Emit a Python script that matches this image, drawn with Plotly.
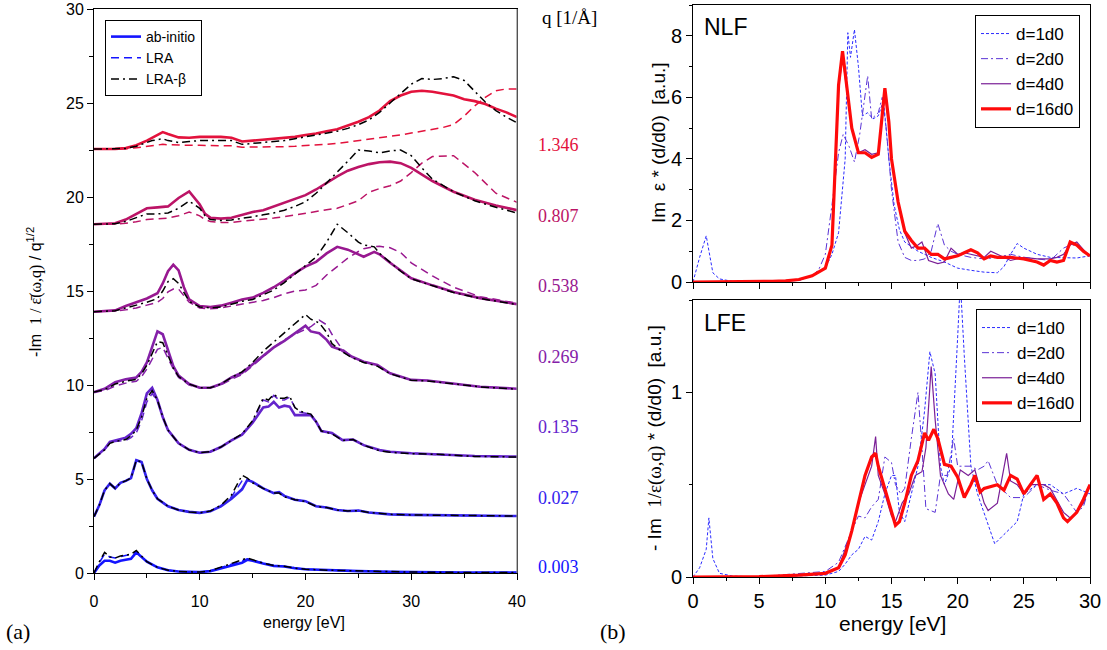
import plotly.graph_objects as go

# ---------------- Panel (a) data ----------------
q_labels = ["0.003", "0.027", "0.135", "0.269", "0.538", "0.807", "1.346"]
q_colors = ["#1414ff", "#3322ee", "#6424cc", "#8420a8", "#981890", "#bc1466", "#e3123c"]
q_label_y = [0.3, 4.0, 7.75, 11.5, 15.25, 19.0, 22.75]

E003 = [0, 0.5, 1, 1.5, 2, 2.5, 3, 3.5, 4, 4.5, 5, 6, 7, 8, 9, 10, 11, 12, 13, 14, 14.5, 15, 16, 17, 18, 19, 20, 22, 25, 28, 30, 35, 40]
ab003 = [0, 0.4, 0.65, 0.65, 0.55, 0.65, 0.7, 0.75, 1.1, 0.85, 0.6, 0.3, 0.15, 0.08, 0.05, 0.05, 0.1, 0.25, 0.4, 0.55, 0.7, 0.65, 0.5, 0.38, 0.35, 0.25, 0.2, 0.15, 0.1, 0.07, 0.05, 0.03, 0.02]
lra003 = [0, 0.55, 1.0, 0.85, 0.8, 0.88, 0.93, 1.0, 1.15, 0.88, 0.6, 0.3, 0.15, 0.08, 0.05, 0.05, 0.11, 0.28, 0.46, 0.65, 0.76, 0.68, 0.51, 0.39, 0.35, 0.26, 0.2, 0.15, 0.1, 0.07, 0.05, 0.03, 0.02]
beta003 = [0, 0.6, 1.1, 0.85, 0.8, 0.9, 0.95, 1.0, 1.2, 0.9, 0.6, 0.3, 0.15, 0.08, 0.05, 0.05, 0.12, 0.3, 0.5, 0.7, 0.8, 0.7, 0.52, 0.4, 0.36, 0.26, 0.2, 0.15, 0.1, 0.07, 0.05, 0.03, 0.02]

E027 = [0, 0.5, 1, 1.5, 2, 2.5, 3, 3.5, 4, 4.5, 5, 5.5, 6, 7, 8, 9, 10, 11, 12, 13, 14, 14.5, 15, 16, 17, 17.5, 18, 19, 20, 21, 22, 23, 24, 25, 26, 27, 28, 30, 33, 36, 40]
ab027 = [3.0, 3.6, 4.4, 4.75, 4.5, 4.8, 4.9, 5.05, 6.0, 5.9, 5.0, 4.4, 3.95, 3.55, 3.35, 3.25, 3.2, 3.28, 3.55, 3.95, 4.45, 4.95, 4.85, 4.5, 4.25, 4.3, 4.1, 3.9, 3.82, 3.55, 3.48, 3.35, 3.3, 3.32, 3.22, 3.17, 3.12, 3.09, 3.06, 3.04, 3.03]
lra027 = [3.0, 3.6, 4.4, 4.75, 4.5, 4.8, 4.9, 5.05, 6.0, 5.9, 5.0, 4.4, 3.95, 3.55, 3.35, 3.25, 3.2, 3.29, 3.58, 4.05, 4.9, 5.0, 4.82, 4.5, 4.25, 4.28, 4.08, 3.9, 3.81, 3.55, 3.48, 3.35, 3.3, 3.32, 3.22, 3.17, 3.12, 3.09, 3.06, 3.04, 3.03]
beta027 = [3.0, 3.6, 4.4, 4.75, 4.5, 4.8, 4.9, 5.05, 6.0, 5.9, 5.0, 4.4, 3.95, 3.55, 3.35, 3.25, 3.2, 3.3, 3.6, 4.15, 5.2, 5.05, 4.8, 4.5, 4.25, 4.25, 4.05, 3.9, 3.8, 3.55, 3.48, 3.35, 3.3, 3.32, 3.22, 3.17, 3.12, 3.09, 3.06, 3.04, 3.03]

E135 = [0, 1, 1.5, 2, 3, 3.5, 4, 4.5, 5, 5.5, 6, 6.5, 7, 8, 9, 10, 11, 12, 13, 14, 15, 16, 16.5, 17, 17.5, 18, 18.5, 19, 19.5, 20.5, 21, 21.5, 22.5, 23.5, 24.5, 25.5, 27, 28, 30, 33, 36, 40]
ab135 = [6.1, 6.6, 6.98, 7.05, 7.2, 7.4, 7.7, 8.5, 9.55, 9.85, 9.2, 8.3, 7.6, 6.9, 6.55, 6.4, 6.45, 6.7, 7.05, 7.35, 8.0, 8.8, 8.85, 9.1, 8.8, 8.9, 8.85, 8.4, 8.4, 8.4, 8.05, 7.55, 7.45, 7.07, 7.1, 6.8, 6.54, 6.45, 6.37, 6.31, 6.22, 6.19]
lra135 = [6.1, 6.55, 6.9, 7.0, 7.05, 7.2, 7.45, 8.1, 9.1, 9.55, 9.15, 8.3, 7.6, 6.9, 6.55, 6.4, 6.45, 6.7, 7.05, 7.4, 8.05, 9.2, 9.1, 9.45, 9.2, 9.2, 9.35, 8.8, 8.55, 8.45, 8.05, 7.55, 7.42, 7.06, 7.1, 6.8, 6.52, 6.43, 6.36, 6.3, 6.21, 6.18]
beta135 = [6.1, 6.55, 6.9, 7.0, 7.1, 7.3, 7.6, 8.3, 9.3, 9.7, 9.2, 8.3, 7.6, 6.9, 6.55, 6.4, 6.45, 6.7, 7.05, 7.4, 8.1, 9.3, 9.2, 9.5, 9.3, 9.3, 9.4, 8.8, 8.6, 8.45, 8.05, 7.55, 7.4, 7.05, 7.1, 6.8, 6.5, 6.42, 6.35, 6.3, 6.2, 6.17]

E269 = [0, 1, 2, 3, 4, 4.5, 5, 5.5, 6, 6.5, 7, 7.5, 8, 9, 10, 11, 12, 13, 14, 15, 16, 17, 18, 19, 20, 20.5, 21.3, 22, 22.5, 23.4, 24.4, 25.5, 26.8, 28, 30, 31.5, 33.5, 36.5, 40]
ab269 = [9.62, 9.8, 10.15, 10.3, 10.4, 10.7, 11.2, 12.0, 12.85, 12.7, 11.8, 11.0, 10.5, 10.05, 9.85, 9.85, 10.05, 10.4, 10.65, 11.1, 11.6, 12.0, 12.35, 12.75, 13.15, 12.85, 12.75, 12.4, 12.04, 11.86, 11.5, 11.24, 11.06, 10.62, 10.27, 10.24, 10.1, 9.91, 9.8]
lra269 = [9.62, 9.7, 9.95, 10.1, 10.2, 10.45, 10.85, 11.4, 11.9, 12.0, 11.45, 10.85, 10.4, 10.0, 9.85, 9.85, 10.0, 10.3, 10.55, 11.0, 11.5, 12.0, 12.4, 12.7, 12.95, 13.1, 13.45, 13.2, 12.7, 11.95, 11.5, 11.25, 11.05, 10.62, 10.27, 10.24, 10.1, 9.91, 9.8]
beta269 = [9.62, 9.75, 10.05, 10.2, 10.3, 10.6, 11.05, 11.7, 12.3, 12.25, 11.6, 10.9, 10.45, 10.05, 9.85, 9.85, 10.05, 10.4, 10.7, 11.2, 11.8, 12.3, 12.8, 13.3, 13.75, 13.5, 13.3, 12.8, 12.2, 11.8, 11.45, 11.2, 11.0, 10.6, 10.25, 10.22, 10.08, 9.9, 9.78]

E538 = [0, 1, 2, 3, 4, 5, 6, 6.5, 7, 7.5, 8, 8.5, 9, 10, 11, 12, 13, 14, 15, 16, 17, 18, 19, 20, 21, 22, 23, 24, 25, 25.5, 26.5, 27, 28, 29, 30, 32, 34, 36.5, 40]
ab538 = [13.9, 13.92, 13.97, 14.2, 14.4, 14.6, 14.88, 15.4, 16.05, 16.4, 16.1, 15.2, 14.55, 14.2, 14.15, 14.22, 14.38, 14.55, 14.65, 14.9, 15.2, 15.55, 15.95, 16.3, 16.55, 17.0, 17.35, 17.2, 16.95, 16.82, 17.08, 16.95, 16.5, 16.1, 15.68, 15.3, 14.95, 14.62, 14.3]
lra538 = [13.9, 13.91, 13.93, 14.0, 14.1, 14.25, 14.4, 14.6, 14.95, 15.1, 15.1, 14.75, 14.4, 14.1, 14.05, 14.1, 14.2, 14.3, 14.4, 14.5, 14.65, 14.85, 15.0, 15.05, 15.3, 15.85, 16.3, 16.75, 17.1, 17.25, 17.35, 17.38, 17.3, 17.05, 16.5, 15.8, 15.2, 14.7, 14.35]
beta538 = [13.9, 13.92, 13.95, 14.1, 14.25, 14.4, 14.6, 15.0, 15.5, 15.65, 15.4, 14.9, 14.45, 14.15, 14.1, 14.15, 14.3, 14.45, 14.55, 14.8, 15.05, 15.45, 15.9, 16.4, 16.8, 17.6, 18.55, 18.1, 17.6, 17.45, 17.35, 17.0, 16.5, 16.05, 15.65, 15.28, 14.92, 14.6, 14.28]

E807 = [0, 1, 2, 3, 4, 5, 6, 7, 8, 9, 10, 10.5, 11, 12, 13, 14, 15, 16, 17, 18, 19, 20, 21, 22, 23, 24, 25, 26, 27, 28, 29, 30, 31, 32, 34, 36, 38, 40]
ab807 = [18.55, 18.56, 18.6, 18.8, 19.1, 19.4, 19.45, 19.5, 19.95, 20.3, 19.6, 19.1, 18.9, 18.85, 18.9, 19.05, 19.2, 19.3, 19.5, 19.7, 19.9, 20.1, 20.4, 20.75, 21.1, 21.4, 21.6, 21.75, 21.85, 21.88, 21.8, 21.55, 21.2, 20.85, 20.28, 19.85, 19.55, 19.3]
lra807 = [18.55, 18.55, 18.56, 18.6, 18.68, 18.8, 18.85, 18.88, 19.0, 19.2, 19.0, 18.8, 18.7, 18.65, 18.65, 18.7, 18.75, 18.8, 18.88, 18.95, 19.05, 19.15, 19.25, 19.32, 19.4, 19.6, 19.8, 20.25, 20.45, 20.6, 20.85, 21.3, 21.8, 22.15, 22.2, 21.3, 20.2, 19.72]
beta807 = [18.55, 18.56, 18.58, 18.7, 18.9, 19.1, 19.1, 19.15, 19.4, 19.78, 19.4, 19.0, 18.8, 18.75, 18.78, 18.85, 18.95, 19.05, 19.15, 19.3, 19.5, 19.75, 20.2, 20.75, 21.3, 21.9, 22.5, 22.45, 22.35, 22.45, 22.5, 22.2, 21.55, 20.95, 20.28, 19.8, 19.45, 19.15]

E1346 = [0, 1, 2, 3, 4, 5, 5.5, 6, 6.5, 7, 8, 9, 10, 11, 12, 13, 14, 15, 16, 17, 18, 19, 20, 21, 22, 23, 24, 25, 26, 27, 28, 29, 30, 31, 32, 33, 34, 35, 36, 37, 38, 39, 40]
ab1346 = [22.55, 22.55, 22.56, 22.6, 22.75, 23.0, 23.15, 23.3, 23.45, 23.35, 23.17, 23.15, 23.2, 23.2, 23.2, 23.15, 22.95, 23.0, 23.05, 23.1, 23.15, 23.2, 23.3, 23.38, 23.5, 23.6, 23.8, 24.0, 24.25, 24.6, 25.1, 25.4, 25.6, 25.65, 25.6, 25.5, 25.4, 25.2, 25.1, 24.95, 24.7, 24.5, 24.25]
lra1346 = [22.55, 22.55, 22.55, 22.56, 22.62, 22.7, 22.75, 22.78, 22.8, 22.78, 22.75, 22.75, 22.75, 22.75, 22.75, 22.72, 22.65, 22.65, 22.66, 22.67, 22.68, 22.7, 22.72, 22.76, 22.8, 22.85, 22.92, 23.0, 23.05, 23.12, 23.2, 23.3, 23.4, 23.5, 23.6, 23.7, 23.85, 24.3, 24.85, 25.3, 25.65, 25.75, 25.75]
beta1346 = [22.55, 22.55, 22.56, 22.58, 22.7, 22.9, 23.0, 23.05, 23.1, 23.0, 22.9, 22.95, 23.0, 23.0, 23.0, 23.0, 22.8, 22.85, 22.9, 22.95, 23.0, 23.1, 23.2, 23.3, 23.4, 23.5, 23.65, 23.85, 24.1, 24.5, 25.0, 25.5, 26.0, 26.3, 26.25, 26.3, 26.4, 26.2, 25.6, 25.05, 24.6, 24.25, 23.95]

sets_a = [
    (E003, ab003, lra003, beta003),
    (E027, ab027, lra027, beta027),
    (E135, ab135, lra135, beta135),
    (E269, ab269, lra269, beta269),
    (E538, ab538, lra538, beta538),
    (E807, ab807, lra807, beta807),
    (E1346, ab1346, lra1346, beta1346),
]

# ---------------- Panel (b) data ----------------
d_names = ["d=1d0", "d=2d0", "d=4d0", "d=16d0"]

# NLF
nlf_E1 = [0, 0.5, 1, 1.2, 1.5, 2, 3, 5, 8, 9, 10, 10.5, 11, 11.5, 11.7, 11.9, 12.2, 12.5, 12.8, 13.2, 13.6, 14, 14.4, 14.8, 15.2, 15.6, 16, 17, 18, 19, 20, 21, 22, 23, 23.5, 24, 24.5, 25, 26, 27, 28, 29, 30]
nlf_d1 = [0, 0.8, 1.5, 1.0, 0.3, 0.1, 0.02, 0.0, 0.05, 0.2, 0.45, 0.9, 1.6, 4.0, 8.1, 7.3, 8.2, 7.0, 5.4, 5.5, 5.3, 5.4, 5.9, 4.0, 2.5, 1.7, 1.3, 1.0, 0.8, 0.65, 0.45, 0.38, 0.32, 0.3, 0.5, 0.9, 1.25, 1.1, 0.9, 0.8, 0.8, 0.78, 0.85]
nlf_E2 = [0, 5, 8, 9, 9.5, 10, 10.5, 11, 11.35, 11.8, 12.2, 12.6, 13.2, 13.5, 14, 14.3, 14.6, 15, 15.5, 16, 16.5, 17, 17.5, 18, 18.5, 19, 19.5, 20, 21, 22, 23, 24, 25, 26, 27, 28, 28.5, 29, 29.5, 30]
nlf_d2 = [0, 0, 0.05, 0.2, 0.4, 0.9, 2.5, 4.2, 4.8, 4.4, 3.9, 4.8, 6.7, 5.3, 5.5, 6.0, 5.0, 3.0, 1.3, 0.8, 0.7, 0.7, 0.75, 1.0, 1.9, 1.2, 1.0, 0.9, 0.8, 0.75, 0.8, 0.9, 0.8, 0.75, 0.7, 1.1, 1.2, 1.2, 1.0, 0.85]
nlf_E4 = [0, 2, 4, 6, 7, 8, 9, 10, 10.5, 10.8, 11, 11.3, 11.7, 12, 12.5, 13, 13.5, 14, 14.2, 14.5, 14.8, 15, 15.5, 16, 16.5, 17, 17.3, 17.8, 18.5, 19, 19.5, 20, 20.5, 21, 21.5, 22, 22.5, 23, 24, 25, 26, 26.5, 27, 27.5, 28, 28.5, 29, 29.5, 30]
nlf_d4 = [0, 0, 0.01, 0.02, 0.04, 0.08, 0.2, 0.45, 1.2, 4.0, 6.3, 7.3, 6.0, 5.0, 4.2, 4.3, 4.15, 4.2, 5.0, 6.2, 5.1, 4.0, 2.6, 1.6, 1.1, 1.2, 1.3, 0.7, 0.6, 0.65, 1.1, 0.9, 0.95, 0.9, 0.85, 0.8, 1.0, 0.9, 0.7, 0.8, 0.75, 0.75, 0.75, 0.8, 0.9, 1.2, 1.3, 1.05, 0.85]
nlf_E16 = [0, 2, 4, 6, 7, 8, 9, 10, 10.5, 10.8, 11, 11.3, 11.7, 12, 12.5, 13, 13.5, 14, 14.2, 14.5, 14.8, 15, 15.5, 16, 16.5, 17, 17.5, 18, 18.5, 19, 19.5, 20, 20.5, 21, 21.5, 22, 22.5, 23, 24, 25, 26, 26.5, 27, 27.5, 28, 28.5, 29, 29.5, 30]
nlf_d16 = [0, 0, 0.01, 0.02, 0.04, 0.08, 0.2, 0.45, 1.2, 4.0, 6.4, 7.5, 6.0, 5.0, 4.2, 4.2, 4.05, 4.15, 5.0, 6.3, 5.2, 4.0, 2.6, 1.65, 1.35, 1.1, 1.1, 0.9, 0.9, 0.75, 0.8, 0.85, 0.95, 1.05, 0.95, 0.75, 0.85, 0.8, 0.8, 0.75, 0.65, 0.55, 0.7, 0.65, 0.7, 1.3, 1.2, 1.0, 0.85]

# LFE
lfe_E1 = [0, 0.5, 1, 1.2, 1.5, 2, 3, 5, 10, 11, 11.5, 12, 12.5, 13, 13.5, 14, 14.5, 15, 15.3, 15.6, 16, 16.5, 17, 17.5, 17.9, 18.3, 18.7, 19, 19.5, 20, 20.2, 20.5, 21, 21.5, 22, 22.8, 23.5, 24.5, 25, 26, 27, 28, 29, 30]
lfe_d1 = [0, 0.05, 0.15, 0.32, 0.1, 0.02, 0.005, 0, 0.01, 0.03, 0.07, 0.12, 0.15, 0.22, 0.2, 0.3, 0.45, 0.55, 0.55, 0.35, 0.3, 0.45, 0.6, 0.9, 1.22, 1.1, 0.6, 0.5, 0.6, 1.3, 1.6, 1.2, 0.6, 0.45, 0.35, 0.18, 0.23, 0.3, 0.45, 0.5, 0.5, 0.45, 0.48, 0.45]
lfe_E2 = [0, 5, 10, 11, 12, 12.5, 13, 13.5, 14, 14.3, 14.5, 15, 15.3, 15.7, 16, 16.5, 17, 17.3, 17.6, 18.3, 18.7, 19.2, 19.7, 20, 20.5, 21, 21.5, 22, 22.3, 23, 24, 25, 26, 27, 28, 29, 29.5, 30]
lfe_d2 = [0, 0.002, 0.03, 0.08, 0.25, 0.33, 0.32, 0.38, 0.42, 0.55, 0.65, 0.62, 0.5, 0.45, 0.48, 0.75, 1.0, 0.7, 0.37, 0.35, 0.55, 0.55, 0.75, 0.6, 0.6, 0.6, 0.58, 0.6, 0.63, 0.5, 0.43, 0.43, 0.5, 0.47, 0.45, 0.35, 0.38, 0.5]
lfe_E4 = [0, 5, 10, 11, 12, 12.5, 13, 13.5, 13.8, 14, 14.5, 15, 15.3, 15.8, 16.3, 16.8, 17.3, 17.6, 18, 18.3, 18.7, 19.3, 19.7, 20.2, 20.8, 21.3, 22, 22.3, 23, 23.5, 23.7, 24, 24.5, 25, 25.5, 26, 26.5, 27, 28, 28.5, 29, 29.5, 30]
lfe_d4 = [0, 0.002, 0.02, 0.05, 0.25, 0.4, 0.5, 0.6, 0.76, 0.55, 0.45, 0.33, 0.3, 0.4, 0.45, 0.55, 0.57, 0.7, 1.14, 0.85, 0.55, 0.45, 0.42, 0.58, 0.55, 0.58, 0.4, 0.36, 0.4, 0.58, 0.67, 0.52, 0.5, 0.45, 0.5, 0.5, 0.5, 0.48, 0.35, 0.32, 0.35, 0.4, 0.5]
lfe_E16 = [0, 2, 5, 8, 10, 11, 11.5, 12, 12.5, 13, 13.5, 13.8, 14, 14.5, 15, 15.3, 15.6, 16, 16.5, 17, 17.5, 17.8, 18.2, 18.5, 19, 19.5, 20, 20.5, 21, 21.3, 21.7, 22, 23, 23.5, 24, 24.5, 25, 25.5, 26, 26.5, 27, 27.5, 28, 28.3, 29, 29.5, 30]
lfe_d16 = [0, 0, 0.002, 0.01, 0.02, 0.05, 0.12, 0.25, 0.4, 0.55, 0.65, 0.67, 0.6, 0.48, 0.35, 0.28, 0.3, 0.4, 0.55, 0.63, 0.78, 0.74, 0.8, 0.75, 0.61, 0.6, 0.54, 0.43, 0.5, 0.55, 0.46, 0.48, 0.5, 0.47, 0.55, 0.53, 0.45, 0.5, 0.55, 0.42, 0.45, 0.4, 0.32, 0.3, 0.35, 0.42, 0.5]

# ---------------- Styles ----------------
SANS = "Liberation Sans, Arial, sans-serif"
SERIF = "Liberation Serif, Times New Roman, serif"
W, H = 1107, 650

d_styles = [
    dict(color="#2b2bff", width=1, dash="3px,2px"),
    dict(color="#5a34d6", width=1, dash="7px,3px,2px,3px"),
    dict(color="#7a1f96", width=1.2),
    dict(color="#ff0a0a", width=3.2),
]

fig = go.Figure()

# Panel (a)
for i, (E, ab, lra, beta) in enumerate(sets_a):
    fig.add_trace(go.Scatter(x=E, y=ab, mode="lines", name="ab-initio",
                             line=dict(color=q_colors[i], width=2.6), showlegend=(i == 0),
                             legend="legend", xaxis="x", yaxis="y"))
for i, (E, ab, lra, beta) in enumerate(sets_a):
    fig.add_trace(go.Scatter(x=E, y=lra, mode="lines", name="LRA",
                             line=dict(color=q_colors[i], width=1.5, dash="8px,5px"), showlegend=(i == 0),
                             legend="legend", xaxis="x", yaxis="y"))
for i, (E, ab, lra, beta) in enumerate(sets_a):
    fig.add_trace(go.Scatter(x=E, y=beta, mode="lines", name="LRA-β",
                             line=dict(color="black", width=1.5, dash="8px,4px,2px,4px"), showlegend=(i == 0),
                             legend="legend", xaxis="x", yaxis="y"))

# Panel (b) NLF
nlf = [(nlf_E1, nlf_d1), (nlf_E2, nlf_d2), (nlf_E4, nlf_d4), (nlf_E16, nlf_d16)]
for k, (E, v) in enumerate(nlf):
    fig.add_trace(go.Scatter(x=E, y=v, mode="lines", name=d_names[k], line=d_styles[k],
                             legend="legend2", xaxis="x2", yaxis="y2"))
# Panel (b) LFE
lfe = [(lfe_E1, lfe_d1), (lfe_E2, lfe_d2), (lfe_E4, lfe_d4), (lfe_E16, lfe_d16)]
for k, (E, v) in enumerate(lfe):
    fig.add_trace(go.Scatter(x=E, y=v, mode="lines", name=d_names[k], line=d_styles[k],
                             legend="legend3", xaxis="x3", yaxis="y3"))


def px_x(p):
    return p / W


def px_y(p):
    return (H - p) / H


axis_common = dict(showgrid=False, zeroline=False, showline=True, linecolor="black", linewidth=1,
                   mirror=True, ticks="outside", tickcolor="black", color="black", automargin=False)

left_dom_x = [px_x(94), px_x(517)]
left_dom_y = [px_y(573), px_y(9)]
right_dom_x = [px_x(693), px_x(1090)]
top_dom_y = [px_y(282), px_y(5)]
bot_dom_y = [px_y(577), px_y(300)]

fig.update_layout(
    template="none",
    width=W, height=H, margin=dict(l=0, r=0, t=0, b=0, autoexpand=False),
    paper_bgcolor="white", plot_bgcolor="white",
    font=dict(family=SANS, color="black"),
    xaxis=dict(domain=left_dom_x, anchor="y", range=[0, 40], dtick=10, ticklen=6, ticklabelstandoff=8,
               tickfont=dict(size=16), minor=dict(dtick=5, ticks="outside", ticklen=4, tickcolor="black"),
               **axis_common),
    yaxis=dict(domain=left_dom_y, anchor="x", range=[0, 30], dtick=5, ticklen=6,
               tickfont=dict(size=16), minor=dict(dtick=2.5, ticks="outside", ticklen=4, tickcolor="black"),
               **axis_common),
    xaxis2=dict(domain=right_dom_x, anchor="y2", range=[0, 30], dtick=5, ticklen=6, showticklabels=False,
                minor=dict(dtick=2.5, ticks="outside", ticklen=3, tickcolor="black"), **axis_common),
    yaxis2=dict(domain=top_dom_y, anchor="x2", range=[0, 9], dtick=2, ticklen=6,
                tickfont=dict(size=20), minor=dict(dtick=1, ticks="outside", ticklen=3, tickcolor="black"),
                **axis_common),
    xaxis3=dict(domain=right_dom_x, anchor="y3", range=[0, 30], dtick=5, ticklen=6,
                tickfont=dict(size=20), minor=dict(dtick=2.5, ticks="outside", ticklen=3, tickcolor="black"),
                **axis_common),
    yaxis3=dict(domain=bot_dom_y, anchor="x3", range=[0, 1.5], dtick=1, ticklen=6,
                tickfont=dict(size=20), minor=dict(dtick=0.5, ticks="outside", ticklen=3, tickcolor="black"),
                **axis_common),
    legend=dict(x=px_x(105), y=px_y(20), xanchor="left", yanchor="top", bgcolor="white",
                bordercolor="black", borderwidth=1, font=dict(size=14), tracegroupgap=0,
                itemwidth=30),
    legend2=dict(x=px_x(1080), y=px_y(15), xanchor="right", yanchor="top", bgcolor="white",
                 bordercolor="black", borderwidth=1, font=dict(size=17), tracegroupgap=0,
                 itemwidth=30),
    legend3=dict(x=px_x(1081), y=px_y(309), xanchor="right", yanchor="top", bgcolor="white",
                 bordercolor="black", borderwidth=1, font=dict(size=17), tracegroupgap=0,
                 itemwidth=30),
    # right edge of panel (a) is drawn in grey in the original
    shapes=[dict(type="line", xref="x domain", yref="y domain", x0=1, x1=1, y0=0, y1=1,
                 line=dict(color="#8a8a8a", width=1.2))],
)


def label(text, xp, yp, size, family=SANS, color="black", angle=0, xanchor="center"):
    return dict(text=text, x=px_x(xp), xref="paper", y=px_y(yp), yref="paper",
                xanchor=xanchor, yanchor="middle", textangle=angle, showarrow=False,
                font=dict(family=family, size=size, color=color))


ann = []
for lab, col, yv in zip(q_labels, q_colors, q_label_y):
    ann.append(dict(text=lab, x=px_x(536), xref="paper", xanchor="left", y=yv, yref="y",
                    yanchor="middle", showarrow=False, font=dict(family=SERIF, size=18, color=col)))
ann.append(label("q [1/Å]", 540, 17, 19, family=SERIF, xanchor="left"))
ann.append(label("-Im  <span style='font-family:Liberation Serif'>1 / ε̄(ω,q)</span> / q<sup>1/2</sup>",
                 34, 292, 16, angle=-90))
ann.append(label("energy [eV]", 304, 622, 16))
ann.append(label("energy [eV]", 892, 623, 21))
ann.append(label("Im  ε * (d/d0)  [a.u.]", 659, 143, 19, angle=-90))
ann.append(label("- Im  <span style='font-family:Liberation Serif'>1/ε(ω,q)</span> * (d/d0)  [a.u.]",
                 655, 438, 19, angle=-90))
ann.append(label("NLF", 702, 27, 23, xanchor="left"))
ann.append(label("LFE", 702, 323, 23, xanchor="left"))
ann.append(label("(a)", 4, 631, 22, family=SERIF, xanchor="left"))
ann.append(label("(b)", 598, 631, 22, family=SERIF, xanchor="left"))
fig.update_layout(annotations=ann)

fig.write_html("out.html", config={"displayModeBar": False},
               post_script="document.body.style.margin='0px';")
